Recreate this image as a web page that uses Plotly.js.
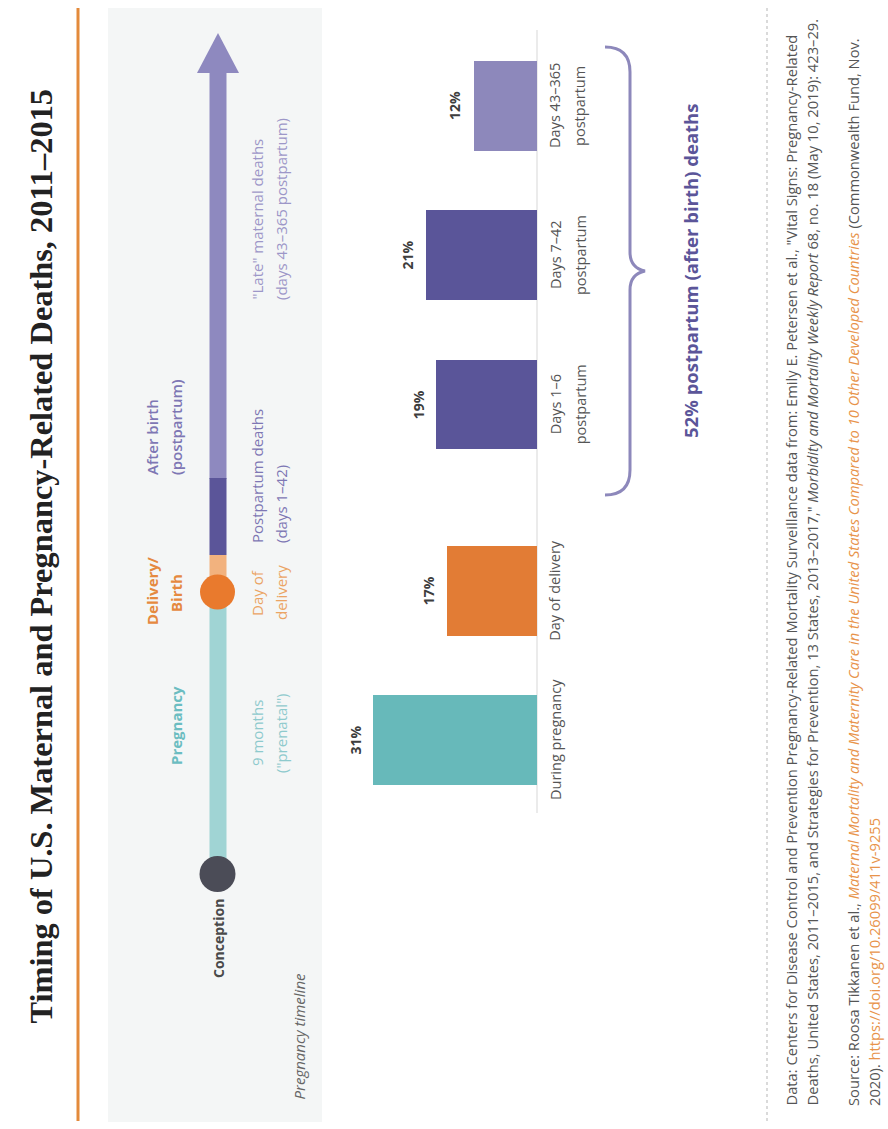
<!DOCTYPE html>
<html><head><meta charset="utf-8">
<script src="https://cdn.plot.ly/plotly-3.0.1.min.js"></script>
<style>html,body{margin:0;padding:0;background:#fff;} #chart{width:888px;height:1129px;}</style>
</head><body><div id="chart"></div>
<script>
// ---- data ----
const categories = ["During pregnancy", "Day of delivery", "Days 1–6 postpartum", "Days 7–42 postpartum", "Days 43–365 postpartum"];
const tickLine1 = ["During pregnancy", "Day of delivery", "Days 1–6", "Days 7–42", "Days 43–365"];
const tickLine2 = ["", "", "postpartum", "postpartum", "postpartum"];
const shares = [31, 17, 19, 21, 12];
const valueLabels = ["31%", "17%", "19%", "21%", "12%"];
const barColors = ["#67B9BA", "#E27C35", "#5A5599", "#5A5599", "#8D88BB"];
const postpartumLabel = "52% postpartum (after birth) deaths";

// ---- layout helpers ----
const W = 888, H = 1129;
const GROUP_GAP = 0.25;
const pos = categories.map((c, i) => i + (i >= 2 ? GROUP_GAP : 0));
const px = x => x / W;
const py = y => 1 - y / H;
const FONT = "Open Sans, Noto Sans, sans-serif";

function rect(x0, y0, x1, y1, color, layer) {
  return {type: 'rect', xref: 'paper', yref: 'paper', x0: px(x0), x1: px(x1), y0: py(y1), y1: py(y0),
          fillcolor: color, line: {width: 0}, layer: layer || 'above'};
}
function circle(cx, cy, r, color) {
  return {type: 'circle', xref: 'paper', yref: 'paper', x0: px(cx - r), x1: px(cx + r), y0: py(cy + r), y1: py(cy - r),
          fillcolor: color, line: {width: 0}};
}
function pathPx(points) {
  return points.map(p => p[0] + ' ' + p.slice(1).map((v, k) => k % 2 === 0 ? px(v) : py(v)).join(',')).join(' ');
}
function rot(text, x, y, yanchor, font, extra) {
  return Object.assign({text: text, xref: 'paper', yref: 'paper', x: px(x), y: py(y), textangle: -90,
    showarrow: false, xanchor: 'center', yanchor: yanchor, font: Object.assign({family: FONT, size: 14}, font)}, extra || {});
}

const shapes = [
  rect(108, 8, 322, 1122, '#F4F6F6', 'below'),
  {type: 'line', xref: 'paper', yref: 'paper', x0: px(78), x1: px(78), y0: py(8), y1: py(1121), line: {color: '#E38A3B', width: 3}},
  // timeline
  rect(209.5, 70, 226.5, 479, '#8E89BF'),
  {type: 'path', xref: 'paper', yref: 'paper', path: pathPx([['M', 197, 73], ['L', 218, 33], ['L', 239, 73]]) + ' Z', fillcolor: '#8E89BF', line: {width: 0}},
  rect(209.5, 478, 226.5, 555, '#5B5599'),
  rect(209.5, 555, 226.5, 592, '#F2B27E'),
  rect(209.5, 592, 226.5, 875, '#A0D4D4'),
  circle(217.5, 592, 17.5, '#E97A2D'),
  circle(217.5, 874, 18, '#4B4C57'),
  // baseline of bars
  {type: 'line', xref: 'x', yref: 'paper', x0: 0, x1: 0, y0: py(30), y1: py(813), line: {color: '#DEDEDE', width: 1.2}, layer: 'below'},
  // brace
  {type: 'path', xref: 'paper', yref: 'paper',
   path: pathPx([['M', 605, 47], ['Q', 630, 47, 630, 72], ['L', 630, 252], ['Q', 630, 268, 645, 271], ['Q', 630, 274, 630, 290], ['L', 630, 470], ['Q', 630, 495, 605, 495]]),
   line: {color: '#8D88BB', width: 3}},
  // footer separator
  {type: 'line', xref: 'paper', yref: 'paper', x0: px(767), x1: px(767), y0: py(8), y1: py(1122), line: {color: '#B5B5B5', width: 1, dash: 'dot'}}
];

const annotations = [
  rot('Timing of U.S. Maternal and Pregnancy-Related Deaths, 2011–2015', 40, 1026, 'bottom', {family: 'Liberation Serif, serif', size: 32.4, color: '#222222', weight: 700}),
  // timeline labels
  rot('After birth', 152, 477, 'bottom', {size: 15, color: '#7E77B4', weight: 600}),
  rot('(postpartum)', 176, 477, 'bottom', {size: 15, color: '#7E77B4', weight: 600}),
  rot('Delivery/', 152, 591, 'middle', {size: 15, color: '#E5893F', weight: 700}),
  rot('Birth', 176, 593, 'middle', {size: 15, color: '#E5893F', weight: 700}),
  rot('Pregnancy', 176, 726, 'middle', {size: 15, color: '#6BBDC1', weight: 700}),
  rot('Conception', 218, 939, 'middle', {size: 14, color: '#4A4A4A', weight: 700}),
  rot('Postpartum deaths', 257, 545, 'bottom', {size: 15, color: '#7E77B4'}),
  rot('(days 1–42)', 281, 545, 'bottom', {size: 15, color: '#7E77B4'}),
  rot('Day of', 257, 593, 'middle', {size: 15, color: '#EBA464'}),
  rot('delivery', 281, 593, 'middle', {size: 15, color: '#EBA464'}),
  rot('9 months', 257, 733, 'middle', {size: 15, color: '#8ECACD'}),
  rot('("prenatal")', 281, 733, 'middle', {size: 15, color: '#8ECACD'}),
  rot('"Late" maternal deaths', 257, 302, 'bottom', {size: 15, color: '#9D97C8'}),
  rot('(days 43–365 postpartum)', 281, 302, 'bottom', {size: 15, color: '#9D97C8'}),
  rot('<i>Pregnancy timeline</i>', 298, 1102, 'bottom', {size: 15, color: '#666666'}),
  // summary
  rot(postpartumLabel, 690, 271, 'middle', {size: 18.5, color: '#5B5599', weight: 700}),
  // footer
  rot('Data: Centers for Disease Control and Prevention Pregnancy-Related Mortality Surveillance data from: Emily E. Petersen et al., "Vital Signs: Pregnancy-Related', 790, 1108, 'bottom', {size: 14.7, color: '#555555'}),
  rot('Deaths, United States, 2011–2015, and Strategies for Prevention, 13 States, 2013–2017," <i>Morbidity and Mortality Weekly Report</i> 68, no. 18 (May 10, 2019): 423–29.', 811, 1108, 'bottom', {size: 14.7, color: '#555555'}),
  rot('Source: Roosa Tikkanen et al., <span style="color:#E8934A"><i>Maternal Mortality and Maternity Care in the United States Compared to 10 Other Developed Countries</i></span> (Commonwealth Fund, Nov.', 853, 1108, 'bottom', {size: 14.7, color: '#555555'}),
  rot('2020). <span style="color:#E8934A">https://doi.org/10.26099/411v-9255</span>', 874, 1108, 'bottom', {size: 14.7, color: '#555555'})
];

// bar value labels and category labels (data coordinates)
shares.forEach((v, i) => {
  annotations.push({text: valueLabels[i], xref: 'x', yref: 'y', x: v, y: pos[i], xanchor: 'right', yanchor: 'middle',
    xshift: -7, textangle: -90, showarrow: false, font: {family: FONT, size: 14, color: '#3D3D3D', weight: 700}});
  annotations.push({text: tickLine1[i], xref: 'x', yref: 'y', x: 0, y: pos[i], xanchor: 'center', yanchor: 'middle',
    xshift: 18, textangle: -90, showarrow: false, font: {family: FONT, size: 14.5, color: '#555555'}});
  if (tickLine2[i]) {
    annotations.push({text: tickLine2[i], xref: 'x', yref: 'y', x: 0, y: pos[i], xanchor: 'center', yanchor: 'middle',
      xshift: 43, textangle: -90, showarrow: false, font: {family: FONT, size: 14.5, color: '#555555'}});
  }
});

const trace = {
  type: 'bar', orientation: 'h', x: shares, y: pos, width: 0.6,
  marker: {color: barColors, line: {width: 0}}, hoverinfo: 'skip', text: categories, textposition: 'none'
};

const X0 = 537, PXPER = 5.29;
const Y0 = 740, PYPER = 149.2;
const layout = {
  width: W, height: H, margin: {l: 0, r: 0, t: 0, b: 0},
  paper_bgcolor: '#FFFFFF', plot_bgcolor: 'rgba(0,0,0,0)', showlegend: false,
  xaxis: {range: [X0 / PXPER, (X0 - W) / PXPER], showgrid: false, zeroline: false, showticklabels: false, ticks: '', showline: false, fixedrange: true},
  yaxis: {range: [(Y0 - H) / PYPER, Y0 / PYPER], showgrid: false, zeroline: false, showticklabels: false, ticks: '', showline: false, fixedrange: true},
  shapes: shapes, annotations: annotations, bargap: 0
};
Plotly.newPlot('chart', [trace], layout, {displayModeBar: false, staticPlot: true});
</script></body></html>
